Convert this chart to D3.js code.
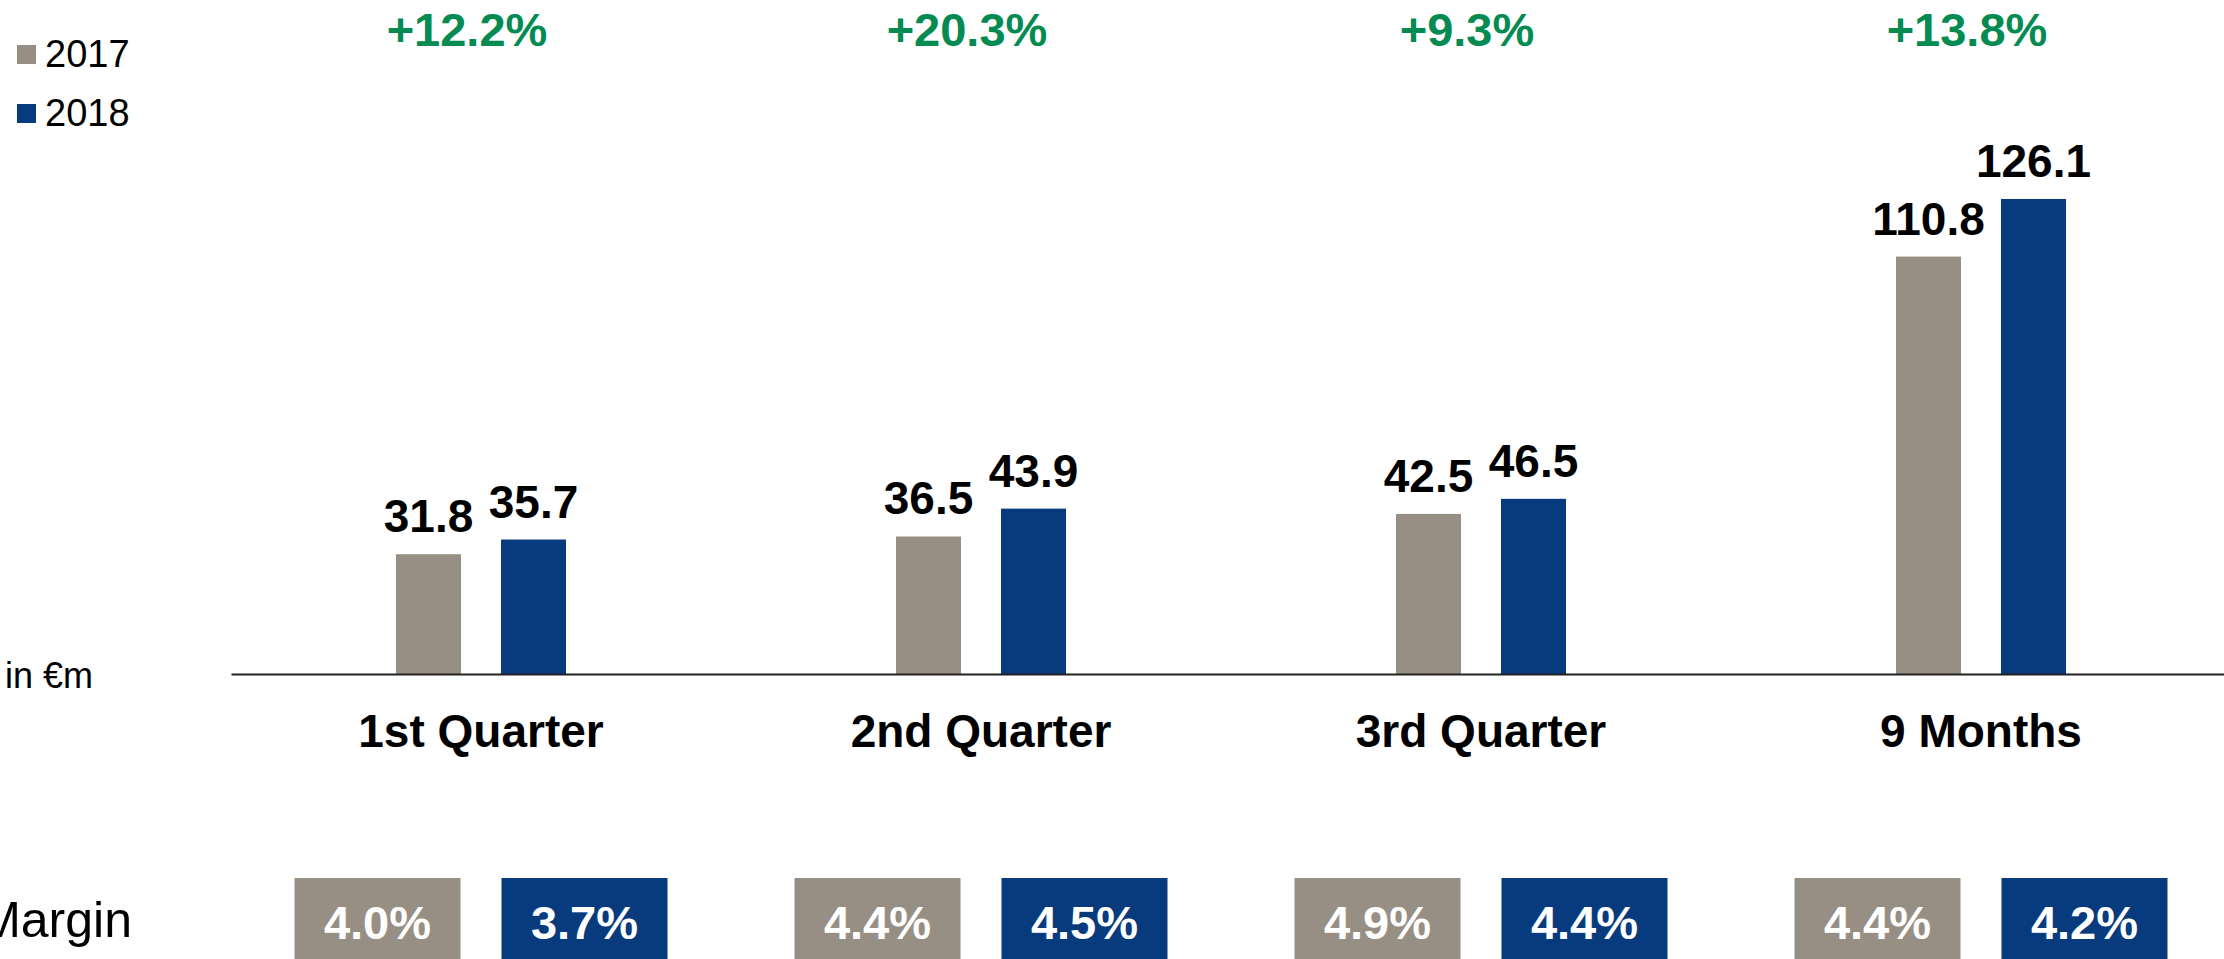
<!DOCTYPE html>
<html>
<head>
<meta charset="utf-8">
<script src="https://cdn.jsdelivr.net/npm/d3@7"></script>
<style>
	html, body { margin: 0; padding: 0; background: #fff; overflow: hidden; }
	svg { display: block; font-family: "Liberation Sans", Arial, sans-serif; }
</style>
</head>
<body>
<div id="chart"></div>
<script>

const categories = ['1st Quarter', '2nd Quarter', '3rd Quarter', '9 Months'];
const series = ['2017', '2018'];
const values_2017 = [31.8, 36.5, 42.5, 110.8];
const values_2018 = [35.7, 43.9, 46.5, 126.1];
const growth = ['+12.2%', '+20.3%', '+9.3%', '+13.8%'];
const margin_2017 = ['4.0%', '4.4%', '4.9%', '4.4%'];
const margin_2018 = ['3.7%', '4.5%', '4.4%', '4.2%'];

const colors = { '2017': '#978f84', '2018': '#083a7e' };
const green = '#038b52';

//-----------------------------------------------------
var W = 2224, H = 959;
var baseY = 674;

var svg = d3.select('#chart')
	.append('svg')
		.attr('width', W)
		.attr('height', H);

var x = d3.scaleBand()
	.domain(categories)
	.range([231, 2231])
	.padding(0);

var bw = x.bandwidth();

// the two bars inside a category
var x1 = d3.scaleBand()
	.domain(series)
	.range([bw / 2 - 85, bw / 2 + 85])
	.paddingInner(0.381)
	.paddingOuter(0);

// the two margin boxes inside a category
var x2 = d3.scaleBand()
	.domain(series)
	.range([bw / 2 - 186.5, bw / 2 + 186.5])
	.paddingInner(0.198)
	.paddingOuter(0);

var y = d3.scaleLinear()
	.domain([0, 140])
	.range([baseY, baseY - 527.4]);

var rows = categories.map(function(c, i) {
	return {
		cat: c,
		vals: [
			{ s: '2017', v: values_2017[i], m: margin_2017[i] },
			{ s: '2018', v: values_2018[i], m: margin_2018[i] }
		],
		growth: growth[i]
	};
});

//-----------------------------------------------------
// bars + value labels
var groups = svg.selectAll('.grp')
	.data(rows)
	.enter()
	.append('g')
	.attr('class', 'grp')
	.attr('transform', function(d) { return 'translate(' + x(d.cat) + ',0)'; });

groups.selectAll('.bar')
	.data(function(d) { return d.vals; })
	.enter()
	.append('rect')
	.attr('class', 'bar')
	.attr('x', function(d) { return x1(d.s); })
	.attr('y', function(d) { return y(d.v); })
	.attr('width', x1.bandwidth())
	.attr('height', function(d) { return y(0) - y(d.v); })
	.attr('fill', function(d) { return colors[d.s]; });

groups.selectAll('.val')
	.data(function(d) { return d.vals; })
	.enter()
	.append('text')
	.attr('class', 'val')
	.attr('x', function(d) { return x1(d.s) + x1.bandwidth() / 2; })
	.attr('y', function(d) { return y(d.v) - 22; })
	.attr('text-anchor', 'middle')
	.style('font-size', '46px')
	.style('font-weight', 'bold')
	.attr('fill', '#000')
	.text(function(d) { return d.v.toFixed(1); });

// growth labels on top
groups.append('text')
	.attr('x', bw / 2 - 14)
	.attr('y', 46)
	.attr('text-anchor', 'middle')
	.style('font-size', '47px')
	.style('font-weight', 'bold')
	.attr('fill', green)
	.text(function(d) { return d.growth; });

// margin boxes
var mb = groups.selectAll('.mbox')
	.data(function(d) { return d.vals; })
	.enter()
	.append('g')
	.attr('class', 'mbox');

mb.append('rect')
	.attr('x', function(d) { return x2(d.s); })
	.attr('y', 878)
	.attr('width', x2.bandwidth())
	.attr('height', 100)
	.attr('fill', function(d) { return colors[d.s]; });

mb.append('text')
	.attr('x', function(d) { return x2(d.s) + x2.bandwidth() / 2; })
	.attr('y', 939)
	.attr('text-anchor', 'middle')
	.style('font-size', '47px')
	.style('font-weight', 'bold')
	.attr('fill', '#fff')
	.text(function(d) { return d.m; });

//-----------------------------------------------------
// x axis: baseline + category names
var axis = svg.append('g')
	.attr('transform', 'translate(0,' + y(0) + ')')
	.call(d3.axisBottom(x).tickSize(0).tickSizeOuter(0).tickPadding(40));

axis.select('.domain')
	.attr('stroke', '#222')
	.attr('stroke-width', 2);

axis.selectAll('.tick text')
	.style('font-family', '"Liberation Sans", Arial, sans-serif')
	.style('font-size', '46px')
	.style('font-weight', 'bold')
	.attr('fill', '#000');

svg.append('text')
	.attr('x', 5)
	.attr('y', 688)
	.style('font-size', '36px')
	.attr('fill', '#000')
	.text('in €m');

svg.append('text')
	.attr('x', 132)
	.attr('y', 937)
	.attr('text-anchor', 'end')
	.style('font-size', '50px')
	.attr('fill', '#000')
	.text('Margin');

//-----------------------------------------------------
// legend
var leg = svg.selectAll('.leg')
	.data(series)
	.enter()
	.append('g')
	.attr('class', 'leg')
	.attr('transform', function(d, i) { return 'translate(17,' + (45 + i * 59) + ')'; });

leg.append('rect')
	.attr('width', 19)
	.attr('height', 19)
	.attr('fill', function(d) { return colors[d]; });

leg.append('text')
	.attr('x', 28)
	.attr('y', 22)
	.style('font-size', '38px')
	.attr('fill', '#000')
	.text(function(d) { return d; });

</script>
</body>
</html>
